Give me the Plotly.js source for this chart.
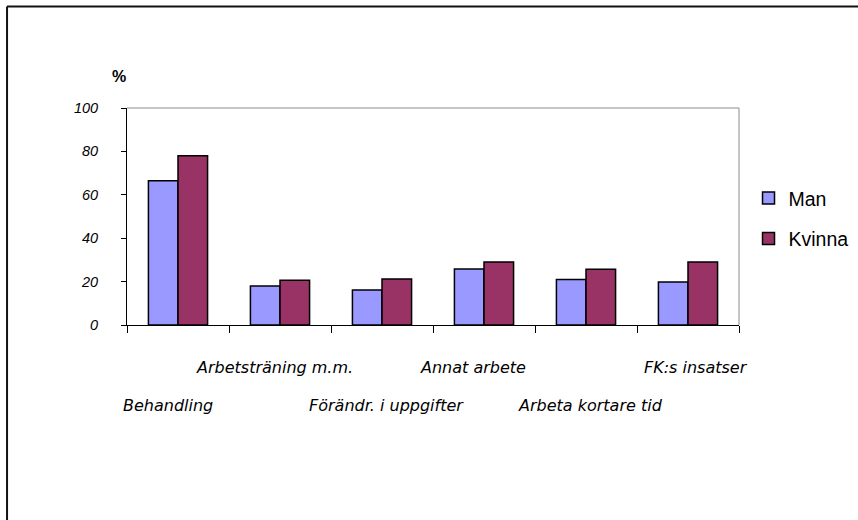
<!DOCTYPE html>
<html>
<head>
<meta charset="utf-8">
<script src="https://cdn.plot.ly/plotly-3.0.1.min.js"></script>
<style>
  html, body { margin: 0; padding: 0; background: #fff; }
  #chart { width: 858px; height: 520px; }
</style>
</head>
<body>
<div id="chart"></div>
<script>
// Andel (%) per åtgärd, uppdelat på kön
const categories = [
  "Behandling",
  "Arbetsträning m.m.",
  "Förändr. i uppgifter",
  "Annat arbete",
  "Arbeta kortare tid",
  "FK:s insatser"
];
const manValues    = [66.5, 18.0, 16.1, 25.8, 21.0, 19.8];
const kvinnaValues = [78.0, 20.6, 21.2, 29.0, 25.7, 29.0];
const seriesNames  = ["Man", "Kvinna"];
const yTicks       = [0, 20, 40, 60, 80, 100];

// staggered category labels: even index on the lower row, odd on the upper row
const labelNudge = [-10, -6, 4, -11, 4, 8];

const traces = [
  {
    type: "bar", name: seriesNames[0], x: categories, y: manValues,
    marker: { color: "#9999FF", line: { color: "#000", width: 1.5 } },
    legendgroup: "a", hoverinfo: "x+y"
  },
  {
    type: "bar", name: seriesNames[1], x: categories, y: kvinnaValues,
    marker: { color: "#993366", line: { color: "#000", width: 1.5 } },
    legendgroup: "b", hoverinfo: "x+y"
  }
];

const catAnnotations = categories.map((c, i) => ({
  x: c, xref: "x",
  y: i % 2 === 0 ? -0.373 : -0.198, yref: "paper",
  xanchor: "center", yanchor: "middle",
  xshift: labelNudge[i],
  showarrow: false, text: c,
  font: { family: "DejaVu Sans, Verdana, sans-serif", size: 16, style: "italic", color: "#000" }
}));

const layout = {
  width: 858, height: 520,
  margin: { l: 127, r: 119, t: 108, b: 195 },
  paper_bgcolor: "#fff", plot_bgcolor: "#fff",
  barmode: "group", bargap: 0.42, bargroupgap: 0,
  showlegend: true,
  legend: {
    xref: "container", yref: "container",
    x: 0.8724, y: 0.58, xanchor: "left", yanchor: "middle",
    font: { family: "Liberation Sans, Arial, sans-serif", size: 19.5, color: "#000" },
    traceorder: "grouped", tracegroupgap: 12, itemwidth: 30,
    bgcolor: "rgba(0,0,0,0)", borderwidth: 0
  },
  xaxis: {
    type: "category",
    range: [-0.5, categories.length - 0.5],
    showticklabels: false,
    showline: true, linecolor: "#000", linewidth: 1,
    ticks: "outside", ticklen: 7, tickcolor: "#000", tickwidth: 1,
    tickson: "boundaries",
    showgrid: false, zeroline: false, fixedrange: true
  },
  yaxis: {
    range: [0, 100],
    tickmode: "array", tickvals: yTicks, ticktext: yTicks.map(String),
    tickfont: { family: "Liberation Sans, Arial, sans-serif", size: 14.5, style: "italic", color: "#000" },
    showline: true, linecolor: "#000", linewidth: 1,
    ticks: "outside", ticklen: 5, tickcolor: "#000", tickwidth: 1,
    ticklabelstandoff: 20,
    showgrid: false, zeroline: false, fixedrange: true
  },
  shapes: [
    // grey plot-area border, top and right
    { type: "line", xref: "paper", yref: "paper", x0: 0, x1: 1, y0: 1, y1: 1,
      line: { color: "#8c8c8c", width: 1 } },
    { type: "line", xref: "paper", yref: "paper", x0: 1, x1: 1, y0: 0, y1: 1,
      line: { color: "#8c8c8c", width: 1 } },
    // outer frame
    { type: "line", xref: "paper", yref: "paper", x0: -0.196, x1: 1.2, y0: 1.468, y1: 1.468,
      line: { color: "#111", width: 2 } },
    { type: "line", xref: "paper", yref: "paper", x0: -0.196, x1: -0.196, y0: -0.9, y1: 1.468,
      line: { color: "#111", width: 2 } }
  ],
  annotations: [
    { x: -0.013, y: 1.147, xref: "paper", yref: "paper", showarrow: false,
      xanchor: "center", yanchor: "middle", text: "<b>%</b>",
      font: { family: "Liberation Sans, Arial, sans-serif", size: 16, color: "#000" } }
  ].concat(catAnnotations)
};

Plotly.newPlot("chart", traces, layout, { displayModeBar: false, staticPlot: true });
</script>
</body>
</html>
